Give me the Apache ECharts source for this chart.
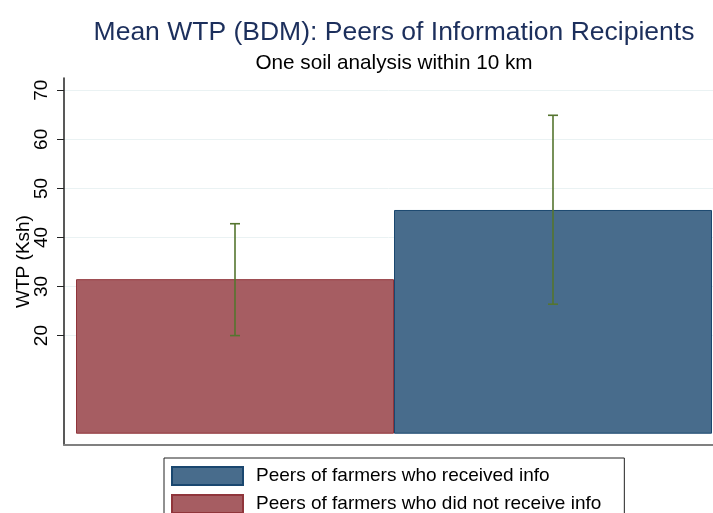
<!DOCTYPE html>
<html>
<head>
<meta charset="utf-8">
<title></title>
<style type="text/css">
  html, body { margin:0; padding:0; background:#fff; }
  #chart { width:713px; height:513px; }
</style>
<script src="https://cdn.jsdelivr.net/npm/echarts@6/dist/echarts.min.js"></script>
</head>
<body>
<div id="chart"></div>
<script type="text/javascript">
// data
var groups = ['Peers of farmers who did not receive info', 'Peers of farmers who received info'];
var meanWtp = [31.5, 45.6];
var ciLow = [20.0, 26.4];
var ciHigh = [42.8, 64.9];
var yTicks = [20, 30, 40, 50, 60, 70];

var font = "'Liberation Sans', Arial, Helvetica, sans-serif";
var fills = ['#a65d62', '#486c8c'];
var borders = ['#90353b', '#1a476f'];

var myChart = echarts.init(document.getElementById('chart'));

var option = {
  animation: false,
  backgroundColor: '#ffffff',
  textStyle: { fontFamily: font },
  graphic: [
    { type: 'text', x: 394, y: 33, style: { text: 'Mean WTP (BDM): Peers of Information Recipients',
        fill: '#1c2f5c', font: '26.5px ' + font, textAlign: 'center', textVerticalAlign: 'middle' } },
    { type: 'text', x: 394, y: 63, style: { text: 'One soil analysis within 10 km',
        fill: '#000', font: '20.7px ' + font, textAlign: 'center', textVerticalAlign: 'middle' } }
  ],
  grid: [
    { left: 64, right: 0, top: 78, bottom: 68, outerBoundsMode: 'none' },   // frame + y axis
    { left: 76, right: 1, top: 78, bottom: 68, outerBoundsMode: 'none' }    // bars
  ],
  xAxis: [
    { gridIndex: 0, type: 'value', min: 0, max: 1,
      axisLine: { show: true, onZero: false, lineStyle: { color: '#808080', width: 2 } },
      axisTick: { show: false }, axisLabel: { show: false }, splitLine: { show: false } },
    { gridIndex: 1, type: 'category', data: ['all'],
      axisLine: { show: false }, axisTick: { show: false }, axisLabel: { show: false } }
  ],
  yAxis: [
    { gridIndex: 0, type: 'value', min: -2.3, max: 72.5,
      name: 'WTP (Ksh)', nameLocation: 'middle', nameRotate: 90, nameGap: 31, nameMoveOverlap: false,
      nameTextStyle: { fontSize: 19, color: '#000' },
      axisLine: { show: true, onZero: false, lineStyle: { color: '#222', width: 1.5 } },
      axisTick: { show: true, length: 7, customValues: yTicks, lineStyle: { color: '#222' } },
      axisLabel: { customValues: yTicks, rotate: 90, margin: 13, fontSize: 19, color: '#000' },
      splitLine: { show: true, lineStyle: { color: '#eaf2f3', width: 1 } } },
    { gridIndex: 1, type: 'value', min: -2.3, max: 72.5, show: false, splitLine: { show: false } }
  ],
  legend: {
    orient: 'vertical', left: 164, top: 458, height: 120,
    data: [groups[1], groups[0]],
    icon: 'rect', itemWidth: 71, itemHeight: 18, itemGap: 8,
    padding: [8, 23, 8, 7],
    borderColor: '#222', borderWidth: 1,
    textStyle: { fontSize: 19, color: '#000', padding: [0, 0, 0, 8] }
  },
  series: [
    { name: groups[0], type: 'bar', xAxisIndex: 1, yAxisIndex: 1,
      data: [meanWtp[0]], barWidth: 318, barGap: '0%',
      itemStyle: { color: fills[0], borderColor: borders[0], borderWidth: 1 } },
    { name: groups[1], type: 'bar', xAxisIndex: 1, yAxisIndex: 1,
      data: [meanWtp[1]], barWidth: 318, barGap: '0%',
      itemStyle: { color: fills[1], borderColor: borders[1], borderWidth: 1 } },
    { name: 'ci', type: 'custom', xAxisIndex: 1, yAxisIndex: 1, z: 5,
      data: [[0, ciLow[0], ciHigh[0]], [0, ciLow[1], ciHigh[1]]],
      renderItem: function (params, api) {
        var side = params.dataIndex === 0 ? -1 : 1;
        var dx = side * api.size([1, 0])[0] / 4;
        var lo = api.coord([api.value(0), api.value(1)]);
        var hi = api.coord([api.value(0), api.value(2)]);
        var x = lo[0] + dx, cap = 5;
        var st = { stroke: '#55752f', lineWidth: 1.6 };
        return { type: 'group', children: [
          { type: 'line', shape: { x1: x, y1: lo[1], x2: x, y2: hi[1] }, style: st },
          { type: 'line', shape: { x1: x - cap, y1: lo[1], x2: x + cap, y2: lo[1] }, style: st },
          { type: 'line', shape: { x1: x - cap, y1: hi[1], x2: x + cap, y2: hi[1] }, style: st }
        ] };
      } }
  ]
};

myChart.setOption(option);
</script>
</body>
</html>
